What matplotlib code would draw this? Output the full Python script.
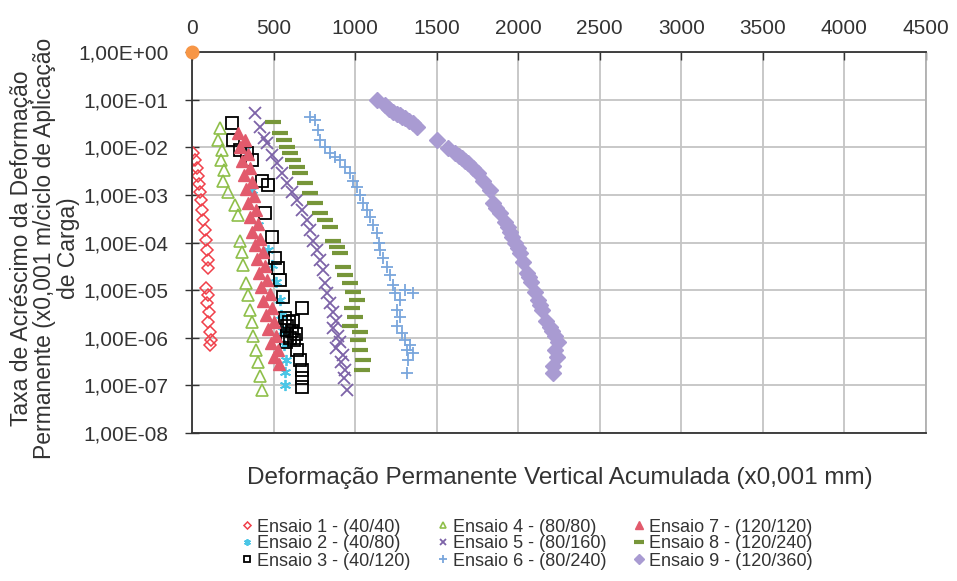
import matplotlib
matplotlib.use('Agg')
import matplotlib.pyplot as plt

plt.rcParams['font.family'] = ['Liberation Sans', 'DejaVu Sans']

# Ensaio 1 - (40/40)
x1 = [6, 18, 31, 37, 43, 49, 55, 61, 67, 80, 86, 92, 98, 98, 86, 98, 92, 104, 98, 110, 116, 110]
y1 = [7.6e-3, 5.4e-3, 3.6e-3, 2.5e-3, 1.7e-3, 1.15e-3, 7.8e-4, 4.8e-4, 2.95e-4, 1.8e-4, 1.12e-4,
      6.9e-5, 4.3e-5, 2.9e-5, 1.1e-5, 7.9e-6, 5.4e-6, 3.5e-6, 2.1e-6, 1.3e-6, 8.9e-7, 6.9e-7]
# Ensaio 2 - (40/80)
x2 = [325, 368, 405, 466, 490, 515, 539, 546, 558, 564, 576, 570, 570]
y2 = [8.7e-3, 1.26e-3, 2.3e-4, 6.9e-5, 3.4e-5, 1.5e-5, 6.2e-6, 3.0e-6, 1.4e-6, 6.9e-7, 3.4e-7, 1.9e-7, 1.0e-7]
# Ensaio 3 - (40/120)
x3 = [245, 251, 294, 337, 368, 429, 466, 447, 490, 509, 527, 539, 558, 674, 619, 582, 613, 637,
      601, 576, 570, 595, 625, 582, 644, 662, 674, 674, 674]
y3 = [3.2e-2, 1.4e-2, 8.7e-3, 7.6e-3, 5.4e-3, 2.0e-3, 1.6e-3, 4.2e-4, 1.3e-4, 4.7e-5, 2.9e-5, 1.6e-5,
      7.1e-6, 4.2e-6, 2.3e-6, 1.8e-6, 1.4e-6, 1.2e-6, 9.8e-7, 8.1e-7, 2.6e-6, 2.1e-6, 8.9e-7, 1.1e-6,
      5.5e-7, 3.4e-7, 2.1e-7, 1.4e-7, 9.1e-8]
# Ensaio 4 - (80/80)
x4 = [172, 159, 184, 178, 196, 190, 221, 264, 282, 294, 306, 313, 331, 343, 356, 368, 374, 392, 405, 417, 429]
y4 = [2.5e-2, 1.4e-2, 8.7e-3, 5.4e-3, 3.3e-3, 2.0e-3, 1.15e-3, 6.2e-4, 3.8e-4, 1.1e-4, 6.3e-5, 3.4e-5,
      1.4e-5, 7.9e-6, 3.8e-6, 2.1e-6, 1.1e-6, 5.5e-7, 3.1e-7, 1.6e-7, 7.9e-8]
# Ensaio 5 - (80/160)
x5 = [386, 417, 441, 460, 490, 521, 552, 582, 613, 644, 674, 705, 723, 742, 766, 785, 803, 815, 828,
      846, 864, 883, 864, 895, 907, 883, 926, 913, 938, 932, 950]
y5 = [5.2e-2, 2.6e-2, 1.6e-2, 1.2e-2, 6.9e-3, 4.7e-3, 2.9e-3, 1.8e-3, 1.15e-3, 7.8e-4, 4.8e-4, 2.95e-4,
      1.8e-4, 1.1e-4, 6.9e-5, 4.3e-5, 2.6e-5, 1.4e-5, 8.7e-6, 5.4e-6, 3.5e-6, 2.3e-6, 1.6e-6, 1.1e-6,
      8.1e-7, 6.0e-7, 4.3e-7, 3.1e-7, 2.1e-7, 1.4e-7, 7.9e-8]
# Ensaio 6 - (80/240)
x6 = [723, 754, 772, 785, 815, 846, 877, 907, 938, 969, 987, 1011, 1030, 1048, 1073, 1091, 1110, 1134,
      1146, 1152, 1171, 1195, 1214, 1232, 1244, 1355, 1306, 1275, 1257, 1275, 1257, 1287, 1306, 1336,
      1318, 1355, 1324, 1318]
y6 = [4.3e-2, 3.7e-2, 2.3e-2, 1.4e-2, 1.0e-2, 7.6e-3, 6.2e-3, 5.4e-3, 3.8e-3, 2.9e-3, 2.0e-3, 1.45e-3,
      1.0e-3, 6.7e-4, 4.8e-4, 3.4e-4, 2.3e-4, 1.6e-4, 1.0e-4, 6.9e-5, 4.7e-5, 3.0e-5, 2.1e-5, 1.3e-5,
      8.7e-6, 8.7e-6, 1.0e-5, 6.2e-6, 3.8e-6, 2.7e-6, 1.8e-6, 1.26e-6, 8.9e-7, 6.9e-7, 5.5e-7, 4.8e-7,
      3.4e-7, 1.8e-7]
# Ensaio 7 - (120/120)
x7 = [282, 325, 294, 343, 306, 356, 319, 368, 331, 380, 343, 392, 356, 405, 368, 417, 386, 435, 398,
      447, 411, 460, 423, 478, 435, 490, 454, 503, 466, 515, 484, 527, 503, 533]
y7 = [2.0e-2, 1.4e-2, 1.0e-2, 7.2e-3, 5.1e-3, 3.6e-3, 2.6e-3, 1.9e-3, 1.3e-3, 9.4e-4, 6.7e-4, 4.8e-4,
      3.4e-4, 2.4e-4, 1.7e-4, 1.2e-4, 8.9e-5, 6.3e-5, 4.5e-5, 3.2e-5, 2.3e-5, 1.6e-5, 1.15e-5, 8.3e-6,
      5.9e-6, 4.2e-6, 3.0e-6, 2.1e-6, 1.5e-6, 1.07e-6, 7.7e-7, 5.5e-7, 3.9e-7, 2.8e-7]
# Ensaio 8 - (120/240)
x8 = [497, 539, 564, 582, 601, 619, 644, 662, 693, 723, 754, 785, 815, 846, 864, 889, 907, 926, 938,
      969, 987, 1011, 981, 999, 969, 1030, 1018, 1030, 1048, 1042]
y8 = [3.4e-2, 2.0e-2, 1.4e-2, 1.0e-2, 7.6e-3, 5.4e-3, 3.8e-3, 2.9e-3, 1.8e-3, 1.1e-3, 6.7e-4, 4.2e-4,
      3.0e-4, 2.1e-4, 1.1e-4, 8.0e-5, 6.0e-5, 3.0e-5, 2.1e-5, 1.4e-5, 9.1e-6, 6.2e-6, 4.2e-6, 2.7e-6,
      1.8e-6, 1.3e-6, 8.9e-7, 5.5e-7, 3.4e-7, 2.1e-7]
# Ensaio 9 - (120/360)
x9 = [1134, 1183, 1210, 1232, 1255, 1275, 1290, 1306, 1330, 1355, 1380, 1502, 1569, 1612, 1635, 1655,
      1675, 1692, 1723, 1753, 1784, 1827, 1845, 1865, 1888, 1919, 1935, 1949, 1965, 1980, 2000, 2011,
      2029, 2054, 2065, 2078, 2103, 2121, 2135, 2146, 2170, 2195, 2210, 2225, 2244, 2225, 2237, 2213,
      2213]
y9 = [9.8e-2, 7.7e-2, 6.5e-2, 5.5e-2, 5.1e-2, 4.8e-2, 4.4e-2, 4.1e-2, 3.6e-2, 3.2e-2, 2.6e-2, 1.4e-2,
      9.6e-3, 7.6e-3, 6.6e-3, 5.9e-3, 5.2e-3, 4.7e-3, 3.6e-3, 2.9e-3, 2.0e-3, 1.26e-3, 6.7e-4, 5.3e-4,
      4.2e-4, 2.7e-4, 2.1e-4, 1.65e-4, 1.3e-4, 1.0e-4, 7.8e-5, 6.0e-5, 3.9e-5, 2.3e-5, 1.9e-5, 1.5e-5,
      9.1e-6, 6.2e-6, 4.8e-6, 3.8e-6, 2.3e-6, 1.7e-6, 1.4e-6, 1.1e-6, 8.1e-7, 5.5e-7, 3.9e-7, 2.6e-7,
      1.8e-7]

xticks = [0, 500, 1000, 1500, 2000, 2500, 3000, 3500, 4000, 4500]
yticks = [1e0, 1e-1, 1e-2, 1e-3, 1e-4, 1e-5, 1e-6, 1e-7, 1e-8]
ylabels = ['1,00E+00', '1,00E-01', '1,00E-02', '1,00E-03', '1,00E-04',
           '1,00E-05', '1,00E-06', '1,00E-07', '1,00E-08']

fig = plt.figure(figsize=(9.57, 5.81), dpi=100)
ax = fig.add_axes([0.2006, 0.2547, 0.767, 0.6558])

ax.plot(x1, y1, 'D', ms=6, mfc='none', mec='#f0404a', mew=1.1, ls='none', label='Ensaio 1 - (40/40)')
ax.plot(x2, y2, marker=(6, 2, 0), ms=8, color='#4bc6e6', mew=1.3, ls='none', label='Ensaio 2 - (40/80)')
ax.plot(x3, y3, 's', ms=8, mfc='none', mec='black', mew=1.3, ls='none', label='Ensaio 3 - (40/120)')
ax.plot(x4, y4, '^', ms=8, mfc='none', mec='#8fbf4a', mew=1.2, ls='none', label='Ensaio 4 - (80/80)')
ax.plot(x5, y5, 'x', ms=8, color='#7d63a8', mew=1.3, ls='none', label='Ensaio 5 - (80/160)')
ax.plot(x6, y6, '+', ms=9, color='#79a6dc', mew=1.3, ls='none', label='Ensaio 6 - (80/240)')
ax.plot(x7, y7, '^', ms=9, color='#e25a6c', mec='#e25a6c', ls='none', label='Ensaio 7 - (120/120)')
ax.plot(x8, y8, '_', ms=12, color='#77963a', mew=3, ls='none', label='Ensaio 8 - (120/240)')
ax.plot(x9, y9, 'D', ms=8, color='#a99bd2', mec='#a99bd2', ls='none', label='Ensaio 9 - (120/360)')
ax.plot([0], [1], 'o', ms=9, color='#f79646', clip_on=False, zorder=6, label='_nolegend_')

ax.set_yscale('log')
ax.set_xlim(0, 4500)
ax.set_ylim(1e-8, 1)
ax.set_xticks(xticks)
ax.set_yticks(yticks)
ax.set_yticklabels(ylabels)
ax.yaxis.set_minor_locator(matplotlib.ticker.NullLocator())
ax.xaxis.tick_top()
ax.tick_params(axis='x', direction='in', length=6, width=1, labelsize=15, pad=10, colors='#333333')
ax.tick_params(axis='y', direction='inout', length=10, width=1, labelsize=15, pad=12, colors='#333333')
ax.grid(True, color='#c4c4c4', lw=1.3)
ax.set_axisbelow(True)
for s in ['left', 'top', 'bottom']:
    ax.spines[s].set_color('#333333')
    ax.spines[s].set_linewidth(1.3)
ax.spines['right'].set_color('#b0b0b0')
ax.spines['right'].set_linewidth(1.3)

fig.text(0.585, 1 - 478 / 581, 'Deformação Permanente Vertical Acumulada (x0,001 mm)',
         ha='center', va='center', fontsize=17.5, color='#333333')
fig.text(0.047, 1 - 248 / 581,
         'Taxa de Acréscimo da Deformação\nPermanente (x0,001 m/ciclo de Aplicação\nde Carga)',
         ha='center', va='center', rotation=90, fontsize=16.5, linespacing=1.05,
         multialignment='center', color='#333333')

fig.legend(loc='center', bbox_to_anchor=(0.55, 1 - 544 / 581), ncol=3, frameon=False,
           fontsize=13, handletextpad=0.15, columnspacing=1.4, handlelength=0.8,
           labelspacing=0.0, markerscale=0.6, labelcolor='#333333')

fig.savefig('out.png', dpi=100)
